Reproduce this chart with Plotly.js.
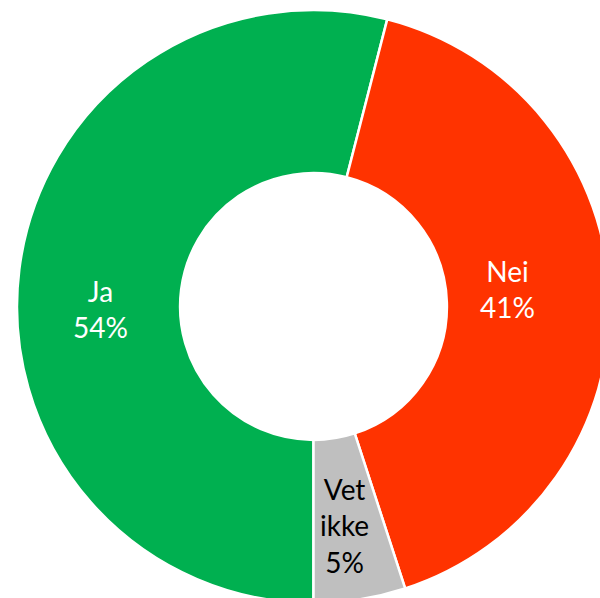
<!DOCTYPE html>
<html>
<head>
<meta charset="utf-8">
<script src="https://cdn.plot.ly/plotly-3.0.1.min.js"></script>
<style>
html, body { margin:0; padding:0; width:600px; height:598px; overflow:hidden; background:#fff; }
#chart { position:absolute; left:17px; top:10px; width:593px; height:593px; }
</style>
</head>
<body>
<div id="chart"></div>
<script>
const labels = ['Ja', 'Nei', 'Vet ikke'];
const displayLabels = ['Ja', 'Nei', 'Vet<br>ikke'];
const values = [54, 41, 5];
const colors = ['#00B050', '#FF3300', '#BFBFBF'];
const textColors = ['#FFFFFF', '#FFFFFF', '#000000'];

// label styling: pixel nudges from the slice mid-point (layout only)
const labelShiftX = [0, -21, -3];
const labelShiftY = [-29, 11, -7];

const SIZE = 593, HOLE = 0.45, ROT = 180;
const total = values.reduce((a, b) => a + b, 0);
const R = SIZE / 2;
const rText = R * (1 + HOLE) / 2;

let cum = 0;
const annotations = values.map((v, i) => {
  const mid = ROT + (cum + v / 2) / total * 360;
  cum += v;
  const t = mid * Math.PI / 180;
  return {
    xref: 'paper', yref: 'paper',
    x: 0.5 + rText * Math.sin(t) / SIZE,
    y: 0.5 + rText * Math.cos(t) / SIZE,
    xanchor: 'center', yanchor: 'middle',
    xshift: labelShiftX[i], yshift: labelShiftY[i],
    showarrow: false,
    text: displayLabels[i] + '<br>' + v + '%',
    font: { family: 'Lato, sans-serif', size: 28, color: textColors[i] }
  };
});

Plotly.newPlot('chart', [{
  type: 'pie',
  labels: labels,
  values: values,
  textinfo: 'none',
  hole: HOLE,
  sort: false,
  direction: 'clockwise',
  rotation: ROT,
  marker: { colors: colors, line: { color: '#FFFFFF', width: 2.5 } },
  domain: { x: [0, 1], y: [0, 1] },
  hoverinfo: 'none'
}], {
  width: SIZE, height: SIZE,
  margin: { l: 0, r: 0, t: 0, b: 0 },
  showlegend: false,
  paper_bgcolor: 'rgba(0,0,0,0)',
  plot_bgcolor: 'rgba(0,0,0,0)',
  annotations: annotations
}, { displayModeBar: false, staticPlot: true });
</script>
</body>
</html>
